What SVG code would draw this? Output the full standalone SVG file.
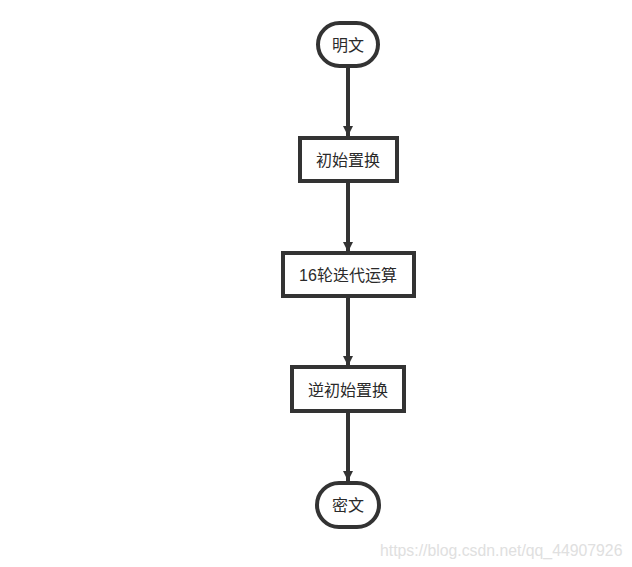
<svg xmlns="http://www.w3.org/2000/svg" width="632" height="567" viewBox="0 0 632 567">
<defs>
<style>
.n{fill:#fff;stroke:#333;stroke-width:4}
.t{font-family:"Liberation Sans","Noto Sans CJK SC",sans-serif;font-size:16px;fill:#2a2a2a;text-anchor:middle;dominant-baseline:central}
.c{stroke:#333;stroke-width:4;fill:none}
.w{font-family:"Liberation Sans",Arial,sans-serif;font-size:15.8px;fill:#e0e0e0}
</style>
<marker id="ah" viewBox="0 0 10 10" refX="10" refY="5" markerWidth="2.6" markerHeight="2.6" orient="auto" markerUnits="strokeWidth">
<path d="M0,0 L10,5 L0,10 z" fill="#333"/>
</marker>
</defs>
<rect width="632" height="567" fill="#fff"/>
<g id="connectors">
<line class="c" x1="348" y1="67" x2="348" y2="136" marker-end="url(#ah)"/>
<line class="c" x1="348" y1="183" x2="348" y2="252" marker-end="url(#ah)"/>
<line class="c" x1="348" y1="297" x2="348" y2="366" marker-end="url(#ah)"/>
<line class="c" x1="348" y1="412" x2="348" y2="481" marker-end="url(#ah)"/>
</g>
<g id="n1">
<rect class="n" x="318" y="23" width="60" height="43" rx="21.5" ry="21.5"/>
<text class="t" x="348" y="45">明文</text>
</g>
<g id="n2">
<rect class="n" x="300" y="138" width="97" height="43"/>
<text class="t" x="348" y="160">初始置换</text>
</g>
<g id="n3">
<rect class="n" x="283" y="253" width="131" height="43"/>
<text class="t" x="348" y="275">16轮迭代运算</text>
</g>
<g id="n4">
<rect class="n" x="292" y="367" width="112" height="44"/>
<text class="t" x="348" y="390">逆初始置换</text>
</g>
<g id="n5">
<rect class="n" x="317" y="483" width="62" height="44" rx="22" ry="22"/>
<text class="t" x="348" y="505">密文</text>
</g>
<text class="w" x="380" y="556">https://blog.csdn.net/qq_44907926</text>
</svg>
